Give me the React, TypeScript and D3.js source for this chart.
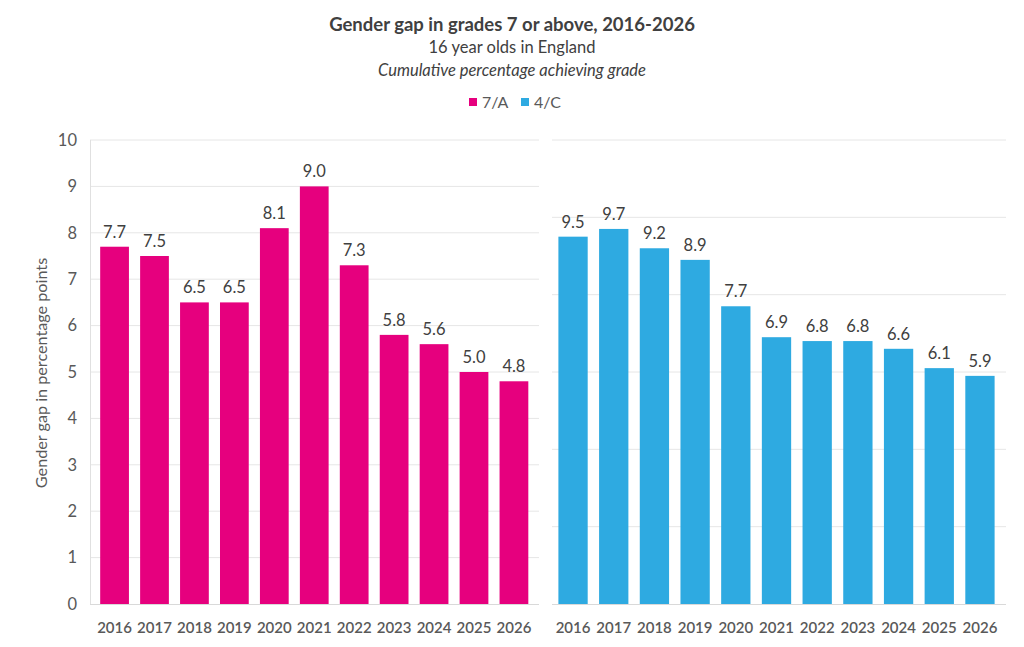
import { useEffect, useRef } from "react";
import * as d3 from "d3";

const years = ["2016", "2017", "2018", "2019", "2020", "2021", "2022", "2023", "2024", "2025", "2026"];
const gradeA = [7.7, 7.5, 6.5, 6.5, 8.1, 9.0, 7.3, 5.8, 5.6, 5.0, 4.8];
const gradeC = [9.5, 9.7, 9.2, 8.9, 7.7, 6.9, 6.8, 6.8, 6.6, 6.1, 5.9];
const leftTicks = [0, 1, 2, 3, 4, 5, 6, 7, 8, 9, 10];
const rightGrid = [2, 4, 6, 8, 10, 12];
const seriesNames = ["7/A", "4/C"];
const colors = ["#E6007E", "#2EAAE1"];

const FONT = "Lato, 'Open Sans', sans-serif";
const TEXT = "#595959";
const DARK = "#404040";

const App = () => {
  const svgRef = useRef<SVGSVGElement | null>(null);

  useEffect(() => {
    const svg = d3.select(svgRef.current);
    svg.selectAll("*").remove();
    const W = 1024;
    const H = 647;
    const top = 140;
    const bottom = 604;

    svg.append("rect").attr("width", W).attr("height", H).attr("fill", "#fff");

    // titles
    svg.append("text").attr("x", 512).attr("y", 31).attr("text-anchor", "middle")
      .attr("font-size", 18.5).attr("font-weight", "bold").attr("fill", DARK)
      .text("Gender gap in grades 7 or above, 2016-2026");
    svg.append("text").attr("x", 512).attr("y", 53).attr("text-anchor", "middle")
      .attr("font-size", 16.5).attr("fill", DARK).text("16 year olds in England");
    svg.append("text").attr("x", 512).attr("y", 76).attr("text-anchor", "middle")
      .attr("font-size", 16.5).attr("font-style", "italic").attr("fill", DARK)
      .text("Cumulative percentage achieving grade");

    // legend
    const legendX = [469, 521];
    seriesNames.forEach((name, i) => {
      svg.append("rect").attr("x", legendX[i]).attr("y", 98).attr("width", 8).attr("height", 8)
        .attr("fill", colors[i]);
      svg.append("text").attr("x", legendX[i] + 13).attr("y", 108)
        .attr("font-size", 16).attr("fill", TEXT).text(name);
    });

    const panels = [
      { values: gradeA, color: colors[0], range: [89, 539.5], grid: [90, 539], max: 10, ticks: leftTicks },
      { values: gradeC, color: colors[1], range: [547, 1006], grid: [552, 1006], max: 12, ticks: rightGrid },
    ];

    panels.forEach((p, pi) => {
      const x = d3.scaleBand().domain(years).range(p.range as [number, number]).padding(0.28);
      const y = d3.scaleLinear().domain([0, p.max]).range([bottom, top]);
      const g = svg.append("g");

      g.selectAll(".grid").data(p.ticks.filter((t) => t > 0)).enter().append("line")
        .attr("x1", p.grid[0]).attr("x2", p.grid[1])
        .attr("y1", (d) => y(d)).attr("y2", (d) => y(d))
        .attr("stroke", "#e6e6e6").attr("stroke-width", 1);

      g.selectAll(".bar").data(p.values).enter().append("rect")
        .attr("x", (_d, i) => x(years[i]) as number)
        .attr("y", (d) => y(d))
        .attr("width", x.bandwidth())
        .attr("height", (d) => bottom - y(d))
        .attr("fill", p.color);

      g.selectAll(".lbl").data(p.values).enter().append("text")
        .attr("x", (_d, i) => (x(years[i]) as number) + x.bandwidth() / 2)
        .attr("y", (d) => y(d) - 9)
        .attr("text-anchor", "middle").attr("font-size", 16.5).attr("fill", DARK)
        .text((d) => d.toFixed(1));

      g.append("line").attr("x1", p.grid[0]).attr("x2", p.grid[1])
        .attr("y1", bottom + 0.5).attr("y2", bottom + 0.5)
        .attr("stroke", "#d9d9d9").attr("stroke-width", 1.2);

      const xAxis = g.append("g").attr("transform", `translate(0,${bottom})`)
        .call(d3.axisBottom(x).tickSize(0).tickPadding(18));
      xAxis.select(".domain").remove();
      xAxis.selectAll("text").attr("font-size", 15).attr("font-family", FONT)
        .attr("fill", TEXT).attr("font-weight", 600);

      if (pi === 0) {
        g.append("line").attr("x1", 90.5).attr("x2", 90.5).attr("y1", top).attr("y2", bottom)
          .attr("stroke", "#e0e0e0");
        const yAxis = g.append("g").attr("transform", "translate(77,0)")
          .call(d3.axisLeft(y).tickValues(p.ticks).tickSize(0).tickPadding(0));
        yAxis.select(".domain").remove();
        yAxis.selectAll("text").attr("font-size", 16.5).attr("font-family", FONT).attr("fill", TEXT);
      }
    });

    svg.append("text").attr("transform", "translate(47,373) rotate(-90)")
      .attr("text-anchor", "middle").attr("font-size", 16.2).attr("fill", TEXT)
      .text("Gender gap in percentage points");

    svg.selectAll("text").attr("font-family", FONT);
  }, []);

  return (
    <svg
      ref={svgRef}
      width={1024}
      height={647}
      style={{ position: "absolute", left: 0, top: 0 }}
    ></svg>
  );
};

export default App;
